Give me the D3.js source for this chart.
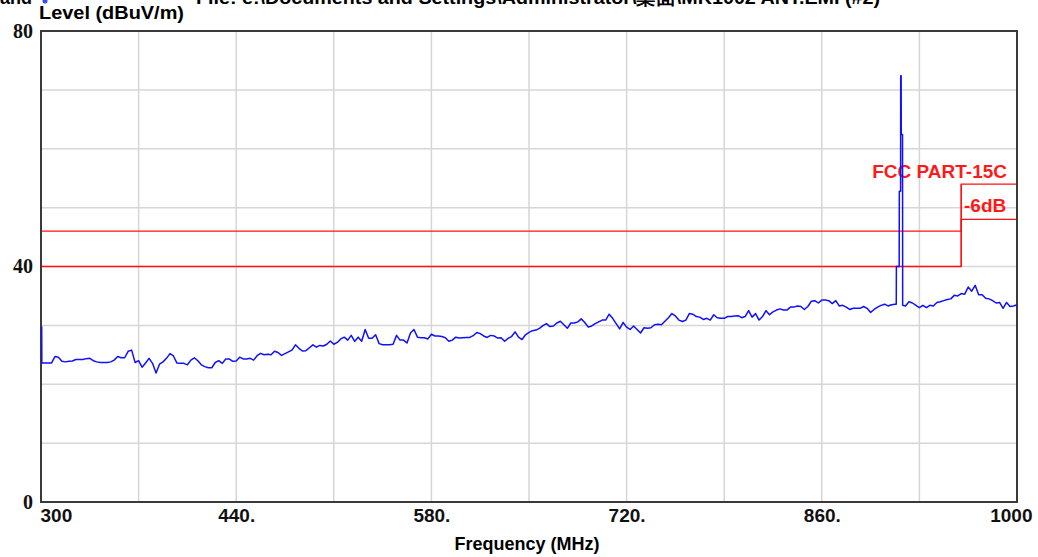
<!DOCTYPE html>
<html>
<head>
<meta charset="utf-8">
<script src="https://cdn.jsdelivr.net/npm/d3@7"></script>
<style>
body { margin: 0; background: #fff; }
svg { display: block; }
</style>
</head>
<body>
<script>
// sweep 300..1000 MHz, one reading every 2.5 MHz
var freqStart = 300, freqStep = 2.5;
var levels = [
  23.6,23.6,23.6,23.6,24.7,24.6,23.9,23.8,23.9,23.95,24.2,24.2,24.2,24.35,24.4,24.0,23.8,23.7,23.7,23.7,
  23.8,24.1,24.7,24.5,24.5,25.6,25.8,23.7,24.0,22.9,23.6,24.4,23.55,21.9,23.4,23.8,24.4,25.2,24.8,23.6,
  23.55,23.55,23.3,24.1,24.5,24.0,23.3,23.0,22.8,22.8,23.7,24.0,23.55,24.3,24.3,23.9,23.95,
  24.6,24.3,24.3,24.4,24.1,24.85,25.25,25.0,25.1,25.0,25.6,25.4,24.9,25.2,25.5,25.8,26.7,26.1,25.65,25.7,
  26.2,26.7,26.3,26.6,26.5,26.8,27.35,26.8,27.1,27.7,28.0,27.5,28.3,27.3,28.0,27.3,29.3,27.8,27.8,28.4,
  26.9,26.7,26.7,26.7,26.8,28.3,27.5,27.5,27.0,28.7,29.3,28.0,27.9,27.9,27.7,28.5,
  28.2,28.2,28.1,27.9,27.3,27.5,28.0,27.85,27.9,27.95,27.95,28.25,28.8,28.6,28.2,27.95,28.3,28.2,27.85,27.9,
  27.3,27.8,28.1,28.9,28.0,27.6,28.4,28.8,29.1,29.2,29.5,29.95,30.3,29.8,29.9,30.4,30.7,30.1,29.5,30.4,
  30.4,30.6,31.1,30.5,29.7,29.9,30.3,30.6,30.9,30.9,31.9,31.2,30.3,29.4,30.5,29.7,
  29.3,29.9,29.3,28.7,29.6,29.5,29.6,30.1,30.2,30.1,30.7,31.3,32.0,31.6,30.9,30.65,30.9,32.0,31.9,31.5,
  31.4,31.0,31.2,30.9,31.8,31.3,31.2,31.2,31.5,31.5,31.6,31.65,31.3,31.5,32.5,31.4,32.0,30.9,31.5,32.5,
  31.8,32.3,32.6,32.8,32.6,32.6,33.1,33.1,33.3,33.2,32.7,33.2,34.1,34.2,33.8,34.3,
  34.3,34.2,33.7,34.2,33.3,33.4,33.1,32.7,32.9,32.9,32.9,33.2,32.9,32.2,32.7,33.1,33.4,33.6,33.3,33.5,
  33.6,33.6,33.4,33.3,34.0,33.8,33.4,33.0,33.4,33.0,33.4,33.3,33.9,34.0,34.2,34.4,34.5,35.1,35.0,35.4,
  35.3,36.5,35.8,36.8,35.2,35.2,34.6,34.5,34.2,33.8,33.9,32.9,33.9,33.2,33.3,33.5
];

// carrier near 916 MHz
var spikeFreq  = [913.4, 913.5, 915.5, 915.6, 916.5, 916.6, 916.9, 917.0, 917.9, 918.0];
var spikeLevel = [33.6,  40.0,  40.0,  52.8,  52.8,  72.4,  72.4,  62.4,  62.4,  33.4];

// reading at the very start of the sweep
var startFreq = [300.5], startLevel = [29.8];

// FCC part 15 class B limit and the -6dB margin
var limitFreq  = [300, 960, 960, 1000];
var limitLevel = [46, 46, 54, 54];
var marginLevel = [40, 40, 48, 48];

var xTicks = [300, 440, 580, 720, 860, 1000];
var yTicks = [0, 40, 80];

var W = 1038, H = 557;
var x = d3.scaleLinear().domain([300, 1000]).range([41, 1017]);
var y = d3.scaleLinear().domain([0, 80]).range([502, 31]);

var svg = d3.select("body").append("svg").attr("width", W).attr("height", H);

var sans = "'Liberation Sans', Arial, sans-serif";

// clipped header line at the top
svg.append("text").attr("x", 0).attr("y", 4)
    .attr("font-family", sans).attr("font-weight", "bold").attr("font-size", 18)
    .text("and");
svg.append("circle").attr("cx", 45).attr("cy", 1).attr("r", 2.5).attr("fill", "#3050ff");
svg.append("text").attr("x", 196).attr("y", 4)
    .attr("font-family", sans).attr("font-weight", "bold").attr("font-size", 18)
    .attr("textLength", 684).attr("lengthAdjust", "spacingAndGlyphs")
    .text("File: e:\\Documents and Settings\\Administrator\\桌面\\MK1002 ANT.EMI  (#2)");

// grid
svg.append("g").selectAll("line").data(d3.range(370, 1000, 70)).enter().append("line")
    .attr("x1", function(d) { return x(d); }).attr("x2", function(d) { return x(d); })
    .attr("y1", y(80)).attr("y2", y(0))
    .attr("stroke", "#d6d6d6").attr("stroke-width", 1.5);
svg.append("g").selectAll("line").data(d3.range(10, 80, 10)).enter().append("line")
    .attr("y1", function(d) { return y(d); }).attr("y2", function(d) { return y(d); })
    .attr("x1", x(300)).attr("x2", x(1000))
    .attr("stroke", "#d6d6d6").attr("stroke-width", 1.5);

// limit lines
var limitLine = d3.line()
    .x(function(d) { return x(d[0]); })
    .y(function(d) { return y(d[1]); });
svg.append("path")
    .attr("d", limitLine(limitFreq.map(function(f, i) { return [f, limitLevel[i]]; })))
    .attr("fill", "none").attr("stroke", "#ff1010").attr("stroke-width", 1.3);
svg.append("path")
    .attr("d", limitLine(limitFreq.map(function(f, i) { return [f, marginLevel[i]]; })))
    .attr("fill", "none").attr("stroke", "#ff1010").attr("stroke-width", 1.3);
svg.append("line")
    .attr("x1", x(960)).attr("x2", x(960)).attr("y1", y(54)).attr("y2", y(40))
    .attr("stroke", "#ff1010").attr("stroke-width", 1.3);

svg.append("text").attr("x", 1007).attr("y", 178).attr("text-anchor", "end")
    .attr("font-family", sans).attr("font-weight", "bold").attr("font-size", 19)
    .attr("fill", "#ff1a1a").text("FCC PART-15C");
svg.append("text").attr("x", 964).attr("y", 212)
    .attr("font-family", sans).attr("font-weight", "bold").attr("font-size", 19)
    .attr("fill", "#ff1a1a").text("-6dB");

// frame
svg.append("rect")
    .attr("x", x(300)).attr("y", y(80))
    .attr("width", x(1000) - x(300)).attr("height", y(0) - y(80))
    .attr("fill", "none").attr("stroke", "#3a3a3a").attr("stroke-width", 2);

// trace
var pts = startFreq.map(function(f, i) { return [f, startLevel[i]]; });
levels.forEach(function(v, i) {
  var f = freqStart + i * freqStep;
  if (f == freqStart) f = 300.6;
  if (f < 913.4 || f > 918.0) pts.push([f, v]);
});
spikeFreq.forEach(function(f, i) { pts.push([f, spikeLevel[i]]); });
pts.sort(function(a, b) { return a[0] - b[0]; });

svg.append("path")
    .attr("d", limitLine(pts))
    .attr("fill", "none").attr("stroke", "#1010ff").attr("stroke-width", 1.5)
    .attr("stroke-linejoin", "round");

// axes
var yAxis = svg.append("g").attr("transform", "translate(" + x(300) + ",0)")
    .call(d3.axisLeft(y).tickValues(yTicks).tickSize(0).tickPadding(8));
yAxis.select(".domain").remove();
yAxis.selectAll("text")
    .attr("font-family", "'Liberation Serif', 'Times New Roman', serif")
    .attr("font-weight", "bold").attr("font-size", 20).attr("fill", "#111");

var xAxis = svg.append("g").attr("transform", "translate(0," + y(0) + ")")
    .call(d3.axisBottom(x).tickValues(xTicks).tickSize(0).tickPadding(7)
      .tickFormat(function(d) { return (d == 300 || d == 1000) ? String(d) : d + "."; }));
xAxis.select(".domain").remove();
xAxis.selectAll("text")
    .attr("font-family", sans).attr("font-weight", "bold").attr("font-size", 19).attr("fill", "#111")
    .attr("text-anchor", function(d) { return d == 300 ? "start" : (d == 1000 ? "end" : "middle"); })
    .attr("dx", function(d) { return d == 300 ? -1 : (d == 1000 ? 15 : 0); });

// axis titles
svg.append("text").attr("x", 39).attr("y", 19)
    .attr("font-family", sans).attr("font-weight", "bold").attr("font-size", 18)
    .attr("textLength", 145).attr("lengthAdjust", "spacingAndGlyphs")
    .text("Level (dBuV/m)");
svg.append("text").attr("x", 527).attr("y", 550).attr("text-anchor", "middle")
    .attr("font-family", sans).attr("font-weight", "bold").attr("font-size", 18)
    .text("Frequency (MHz)");
</script>
</body>
</html>
